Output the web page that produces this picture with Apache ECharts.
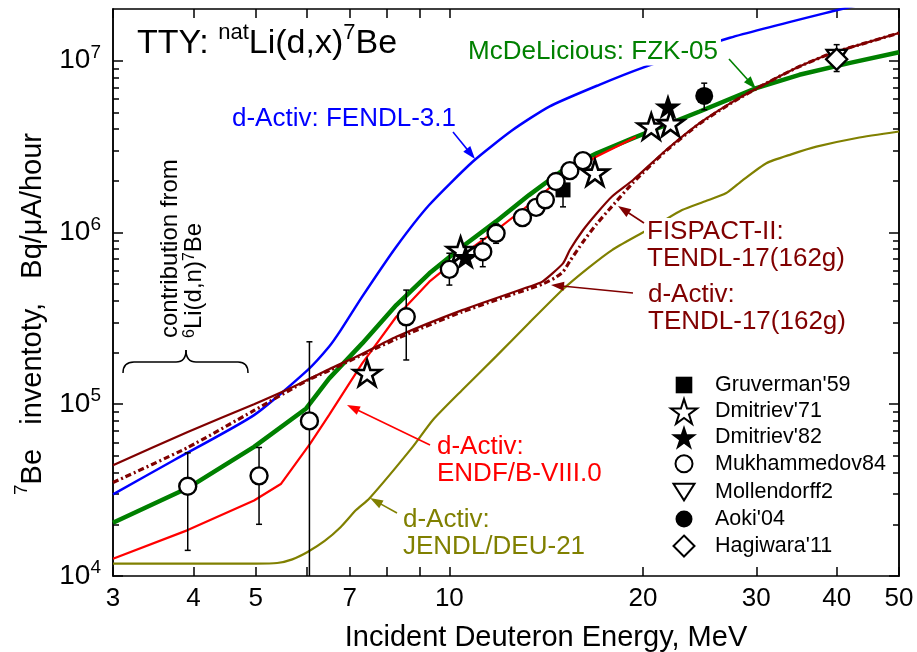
<!DOCTYPE html>
<html>
<head>
<meta charset="utf-8">
<script src="https://cdn.jsdelivr.net/npm/echarts@6/dist/echarts.min.js"></script>
<style>
  html, body { margin: 0; padding: 0; background: #fff; }
  #main { width: 917px; height: 652px; }
</style>
</head>
<body>
<div id="main"></div>
<script>
// axis ticks
const xTickVals = [3, 4, 5, 6, 7, 8, 9, 10, 20, 30, 40, 50];
const xLabelVals = [3, 4, 5, 7, 10, 20, 30, 40, 50];
const yMajorVals = [1e4, 1e5, 1e6, 1e7];
const yMinorVals = [2e4, 3e4, 4e4, 5e4, 6e4, 7e4, 8e4, 9e4,
  2e5, 3e5, 4e5, 5e5, 6e5, 7e5, 8e5, 9e5,
  2e6, 3e6, 4e6, 5e6, 6e6, 7e6, 8e6, 9e6];

// calculations: energy (MeV) / yield (Bq/uA/h)
const fendlE = [3, 3.73, 4.97, 6.02, 6.5, 6.78, 7.32, 8.27, 9.31, 10.88, 12.54, 14.3, 17.1, 19.9, 27.3, 39.4, 50];
const fendlY = [2.99e4, 4.72e4, 8.64e4, 1.58e5, 2.16e5, 2.7e5, 4.23e5, 8.26e5, 1.45e6, 2.59e6, 3.95e6, 5.41e6, 7.24e6, 9.06e6, 1.36e7, 1.94e7, 2.4e7];

const fzkE = [3, 3.92, 4.97, 5.99, 6.5, 7.32, 8.27, 9.31, 10.47, 11.82, 13.3, 15.02, 16.94, 19.3, 24.49, 30, 35, 41.8, 50];
const fzkY = [2.04e4, 3.25e4, 5.65e4, 9.45e4, 1.41e5, 2.26e5, 3.78e5, 5.78e5, 8.26e5, 1.16e6, 1.65e6, 2.31e6, 2.89e6, 3.54e6, 5.06e6, 6.92e6, 8.28e6, 9.68e6, 1.12e7];

const endfE = [3, 3.92, 4.97, 5.47, 6.08, 6.5, 7.32, 8.27, 9.31, 10.47, 11.82, 13.3, 15.02, 16.94, 19.5];
const endfY = [1.26e4, 1.85e4, 2.75e4, 3.43e4, 5.91e4, 8.64e4, 1.73e5, 3.23e5, 5.17e5, 7.4e5, 1.03e6, 1.45e6, 2.11e6, 2.77e6, 3.6e6];

const tendlE = [3, 3.92, 4.97, 5.71, 6.5, 7.19, 8.27, 10.47, 13.3, 13.95, 15.02, 15.39, 16.13, 16.94, 17.9, 19.3, 21.75, 24.49, 27.6, 31.1, 35, 39.4, 44.4, 50];
const tendlY = [4.41e4, 6.9e4, 1.0e5, 1.26e5, 1.6e5, 1.9e5, 2.47e5, 3.53e5, 4.83e5, 5.17e5, 6.61e5, 7.9e5, 1.03e6, 1.29e6, 1.62e6, 2.02e6, 3.03e6, 4.33e6, 5.78e6, 7.4e6, 9.25e6, 1.11e7, 1.27e7, 1.45e7];

const fispE = [3, 3.92, 4.97, 6.02, 6.5, 8.27, 10.47, 13.3, 13.95, 14.6, 15.02, 15.39, 16.13, 16.94, 17.9, 19.3, 21.75, 24.49, 27.6, 31.1, 35, 39.4, 44.4, 50];
const fispY = [3.5e4, 5.6e4, 9.2e4, 1.38e5, 1.57e5, 2.4e5, 3.45e5, 4.7e5, 5.0e5, 5.45e5, 5.9e5, 6.8e5, 8.8e5, 1.12e6, 1.42e6, 1.95e6, 3.0e6, 4.3e6, 5.75e6, 7.4e6, 9.25e6, 1.11e7, 1.27e7, 1.45e7];

const jendlE = [3, 5.0, 5.4, 5.7, 6.02, 6.4, 6.78, 7.16, 7.51, 8.77, 9.42, 10.47, 11.82, 13.3, 15.02, 16.43, 17.9, 19.7, 21.2, 23.0, 25.0, 26.9, 28.5, 31.1, 34, 37.2, 43, 50];
const jendlY = [1.18e4, 1.18e4, 1.19e4, 1.25e4, 1.38e4, 1.6e4, 1.93e4, 2.42e4, 2.83e4, 5.65e4, 8.07e4, 1.21e5, 1.9e5, 2.97e5, 4.67e5, 6.2e5, 7.9e5, 9.7e5, 1.13e6, 1.35e6, 1.52e6, 1.69e6, 2.0e6, 2.53e6, 2.85e6, 3.16e6, 3.55e6, 3.87e6];

// experiments
const gruvE = [15.02];
const gruvY = [1.77e6];
const dm71E = [7.45, 10.41, 16.84, 20.6, 22.07];
const dm71Y = [1.52e5, 7.9e5, 2.23e6, 4.14e6, 4.33e6];
const dm82E = [10.6, 21.87];
const dm82Y = [7.2e5, 5.41e6];
const mukhE = [3.92, 5.06, 6.06, 8.57, 10.0, 11.27, 11.82, 12.99, 13.64, 14.1, 14.65, 15.39, 16.13];
const mukhY = [3.33e4, 3.83e4, 8.0e4, 3.23e5, 6.1e5, 7.73e5, 9.89e5, 1.22e6, 1.4e6, 1.55e6, 1.98e6, 2.29e6, 2.62e6];
const mollE = [40];
const mollY = [1.05e7];
const aokiE = [24.9];
const aokiY = [6.24e6];
const hagiE = [40];
const hagiY = [1.02e7];

// error bars
const errE = [3.92, 5.06, 6.06, 8.57, 10.0, 11.27, 11.82, 15.02, 24.9, 40];
const errLo = [1.41e4, 2.0e4, 1e3, 1.81e5, 4.94e5, 6.32e5, 8.65e5, 1.41e6, 5.18e6, 8.65e6];
const errHi = [5.21e4, 5.6e4, 2.31e5, 4.62e5, 7.57e5, 9.2e5, 1.12e6, 2.2e6, 7.4e6, 1.24e7];

const font = "'Liberation Sans', Arial, Helvetica, sans-serif";
const pairs = (xs, ys) => xs.map((x, i) => [x, ys[i]]);

const STAR = 'path://M50,0L61.23,34.55L97.55,34.55L68.17,55.9L79.39,90.45L50,69.1L20.61,90.45L31.83,55.9L2.45,34.55L38.77,34.55Z';
const TRI_DOWN = 'path://M0,0L20,0L10,17Z';
// legend icons padded inside a 26x26 box so they keep their own size
const ICON_SQUARE = 'path://M0,0M26,26M4.7,4.7L21.3,4.7L21.3,21.3L4.7,21.3Z';
const ICON_CIRCLE = 'path://M0,0M26,26M4.5,13A8.5,8.5,0,1,1,21.5,13A8.5,8.5,0,1,1,4.5,13Z';
const ICON_TRI = 'path://M0,0M26,26M2.5,5L23.5,5L13,21.5Z';
const ICON_DIAMOND = 'path://M0,0M26,26M13,2.5L23.5,13L13,23.5L2.5,13Z';

const axisLineStyle = { color: '#000', width: 1.5 };

function logX(position, labels) {
  return {
    type: 'log', logBase: 10, min: 3, max: 50, position: position,
    axisLine: { show: true, onZero: false, lineStyle: axisLineStyle },
    axisTick: { show: true, inside: true, length: 9, customValues: xTickVals, lineStyle: axisLineStyle },
    axisLabel: labels
      ? { show: true, customValues: xLabelVals, margin: 10, color: '#000', fontSize: 26, fontFamily: font }
      : { show: false },
    splitLine: { show: false },
    minorTick: { show: false }
  };
}

function logY(position, ticks, len, labels) {
  return {
    type: 'log', logBase: 10, min: 1e4, max: 2e7, position: position,
    axisLine: { show: true, onZero: false, lineStyle: axisLineStyle },
    axisTick: { show: true, inside: true, length: len, customValues: ticks, lineStyle: axisLineStyle },
    axisLabel: labels ? {
      show: true, customValues: yMajorVals, margin: 12,
      formatter: v => '{b|10}{s|' + Math.round(Math.log10(v)) + '}',
      rich: {
        b: { fontSize: 28, fontFamily: font, color: '#000', verticalAlign: 'middle' },
        s: { fontSize: 19, fontFamily: font, color: '#000', padding: [0, 0, 16, 0] }
      }
    } : { show: false },
    splitLine: { show: false },
    minorTick: { show: false }
  };
}

function curve(xs, ys, color, width, z, smooth, dash) {
  return {
    type: 'line', data: pairs(xs, ys), symbol: 'none', showSymbol: false,
    smooth: smooth, clip: true, z: z, silent: true,
    lineStyle: { color: color, width: width, type: dash || 'solid', cap: 'butt' }
  };
}

function points(name, xs, ys, symbol, size, filled, border) {
  return {
    name: name, type: 'scatter', data: pairs(xs, ys), symbol: symbol, symbolSize: size,
    symbolKeepAspect: true, z: 5, silent: true,
    itemStyle: filled
      ? { color: '#000', opacity: 1 }
      : { color: '#fff', borderColor: '#000', borderWidth: border || 2, opacity: 1 }
  };
}

function arrow(x1, y1, x2, y2, color) {
  const dx = x2 - x1, dy = y2 - y1, len = Math.hypot(dx, dy);
  const ux = dx / len, uy = dy / len, hl = 13, hw = 4.5;
  const bx = x2 - ux * hl, by = y2 - uy * hl;
  return [
    { type: 'line', z: 100, shape: { x1: x1, y1: y1, x2: bx + ux * 2, y2: by + uy * 2 },
      style: { stroke: color, lineWidth: 1.6 } },
    { type: 'polygon', z: 100,
      shape: { points: [[x2, y2], [bx - uy * hw, by + ux * hw], [bx + uy * hw, by - ux * hw]] },
      style: { fill: color } }
  ];
}

function label(text, x, y, color) {
  return {
    type: 'text', x: x, y: y, z: 100,
    style: {
      text: text, fill: color, fontSize: 26, fontFamily: font, lineHeight: 27,
      align: 'left', verticalAlign: 'middle', textAlign: 'left', textVerticalAlign: 'middle',
      backgroundColor: '#fff', padding: [0, 3]
    }
  };
}

// curly brace over the low-energy part
const braceStyle = { stroke: '#000', lineWidth: 1.5, fill: null };
const brace = [
  { type: 'bezierCurve', z: 100, shape: { x1: 123, y1: 373, cpx1: 123, cpy1: 362, x2: 134, y2: 362 }, style: braceStyle },
  { type: 'line', z: 100, shape: { x1: 134, y1: 362, x2: 176, y2: 362 }, style: braceStyle },
  { type: 'bezierCurve', z: 100, shape: { x1: 176, y1: 362, cpx1: 186, cpy1: 362, x2: 186, y2: 350 }, style: braceStyle },
  { type: 'bezierCurve', z: 100, shape: { x1: 186, y1: 350, cpx1: 186, cpy1: 362, x2: 196, y2: 362 }, style: braceStyle },
  { type: 'line', z: 100, shape: { x1: 196, y1: 362, x2: 238, y2: 362 }, style: braceStyle },
  { type: 'bezierCurve', z: 100, shape: { x1: 238, y1: 362, cpx1: 248, cpy1: 362, x2: 248, y2: 373 }, style: braceStyle }
];

const chart = echarts.init(document.getElementById('main'));

const errorBars = {
  type: 'custom', clip: true, z: 4, silent: true,
  data: errE.map((x, i) => [x, errLo[i], errHi[i]]),
  encode: { x: 0, y: [1, 2] },
  renderItem: function (params, api) {
    const lo = api.coord([api.value(0), api.value(1)]);
    const hi = api.coord([api.value(0), api.value(2)]);
    const w = 3;
    const st = { stroke: '#000', lineWidth: 1.5 };
    return {
      type: 'group',
      children: [
        { type: 'line', shape: { x1: lo[0], y1: lo[1], x2: hi[0], y2: hi[1] }, style: st },
        { type: 'line', shape: { x1: lo[0] - w, y1: lo[1], x2: lo[0] + w, y2: lo[1] }, style: st },
        { type: 'line', shape: { x1: hi[0] - w, y1: hi[1], x2: hi[0] + w, y2: hi[1] }, style: st }
      ]
    };
  }
};

const graphics = [].concat(
  [{
    type: 'text', x: 137, y: 44, z: 100,
    style: {
      text: '{m|TTY: }{s|nat}{m|Li(d,x)}{s|7}{m|Be}',
      align: 'left', verticalAlign: 'middle', textAlign: 'left', textVerticalAlign: 'middle',
      rich: {
        m: { fontSize: 34, fontFamily: font, fill: '#000', color: '#000', verticalAlign: 'middle' },
        s: { fontSize: 22, fontFamily: font, fill: '#000', color: '#000', padding: [0, 0, 22, 0] }
      }
    }
  },
  {
    type: 'text', x: 546, y: 638, z: 100,
    style: {
      text: 'Incident Deuteron Energy, MeV', fill: '#000', fontSize: 29, fontFamily: font,
      align: 'center', verticalAlign: 'middle', textAlign: 'center', textVerticalAlign: 'middle'
    }
  },
  {
    type: 'text', x: 33, y: 314, rotation: Math.PI / 2, z: 100,
    style: {
      text: '{s|7}{m|Be   inventoty,   Bq/\u03bcA/hour}',
      align: 'center', verticalAlign: 'middle', textAlign: 'center', textVerticalAlign: 'middle',
      rich: {
        m: { fontSize: 29, fontFamily: font, fill: '#000', color: '#000', verticalAlign: 'middle' },
        s: { fontSize: 19, fontFamily: font, fill: '#000', color: '#000', padding: [0, 0, 22, 0] }
      }
    }
  },
  {
    type: 'text', x: 182, y: 338, rotation: Math.PI / 2, z: 100,
    style: {
      text: '{n|contribution from}\n{s|6}{n|Li(d,n)}{s|7}{n|Be}',
      align: 'left', verticalAlign: 'middle', textAlign: 'left', textVerticalAlign: 'middle',
      rich: {
        n: { fontSize: 24, fontFamily: font, fill: '#000', color: '#000', verticalAlign: 'middle', lineHeight: 24 },
        s: { fontSize: 16, fontFamily: font, fill: '#000', color: '#000', padding: [0, 0, 8, 0] }
      }
    }
  },
  label('d-Activ: FENDL-3.1', 229, 119, '#0000ff'),
  label('McDeLicious: FZK-05', 465, 52, '#008000'),
  label('FISPACT-II:\nTENDL-17(162g)', 644, 245, '#800000'),
  label('d-Activ:\nTENDL-17(162g)', 645, 308, '#800000'),
  label('d-Activ:\nENDF/B-VIII.0', 434, 460, '#ff0000'),
  label('d-Activ:\nJENDL/DEU-21', 400, 533, '#808000')],
  brace,
  arrow(453, 132, 475, 159, '#0000ff'),
  arrow(729, 59, 756, 89, '#008000'),
  arrow(644, 223, 618, 206, '#800000'),
  arrow(633, 293, 551, 285, '#800000'),
  arrow(430, 445, 347, 405, '#ff0000'),
  arrow(397, 513, 370, 498, '#808000')
);

chart.setOption({
  animation: false,
  backgroundColor: '#fff',
  grid: { left: 113, top: 9, width: 786, height: 567, outerBoundsMode: 'none', containLabel: false },
  xAxis: [logX('bottom', true), logX('top', false)],
  yAxis: [
    logY('left', yMajorVals, 10, true),
    logY('left', yMinorVals, 6, false),
    logY('right', yMajorVals, 10, false),
    logY('right', yMinorVals, 6, false)
  ],
  legend: {
    orient: 'vertical', left: 670, top: 372, padding: 0, itemWidth: 26, itemHeight: 26, itemGap: 0.1,
    selectedMode: false,
    textStyle: { fontSize: 21.5, fontFamily: font, color: '#000', padding: [0, 0, 0, 13] },
    data: [
      { name: "Gruverman'59", icon: ICON_SQUARE },
      { name: "Dmitriev'71", icon: STAR },
      { name: "Dmitriev'82", icon: STAR },
      { name: 'Mukhammedov84', icon: ICON_CIRCLE },
      { name: 'Mollendorff2', icon: ICON_TRI },
      { name: "Aoki'04", icon: ICON_CIRCLE },
      { name: "Hagiwara'11", icon: ICON_DIAMOND }
    ]
  },
  graphic: { elements: graphics },
  series: [
    curve(jendlE, jendlY, '#808000', 2.2, 2, 0.2),
    curve(fendlE, fendlY, '#0000ff', 2.5, 2, 0.2),
    curve(fzkE, fzkY, '#008000', 4.5, 2, false),
    curve(endfE, endfY, '#ff0000', 2.2, 2, false),
    curve(tendlE, tendlY, '#800000', 2.2, 2, 0.2),
    curve(fispE, fispY, '#800000', 3.2, 2, 0.2, [6, 3, 2, 3]),
    errorBars,
    points("Gruverman'59", gruvE, gruvY, 'rect', 15, true),
    points("Dmitriev'71", dm71E, dm71Y, STAR, 27, false, 2.6),
    points("Dmitriev'82", dm82E, dm82Y, STAR, 27, true),
    points('Mukhammedov84', mukhE, mukhY, 'circle', 17, false, 2.4),
    points('Mollendorff2', mollE, mollY, TRI_DOWN, [20, 17], false, 2.4),
    points("Aoki'04", aokiE, aokiY, 'circle', 18, true),
    points("Hagiwara'11", hagiE, hagiY, 'diamond', 21, false, 2.4)
  ]
});
</script>
</body>
</html>
